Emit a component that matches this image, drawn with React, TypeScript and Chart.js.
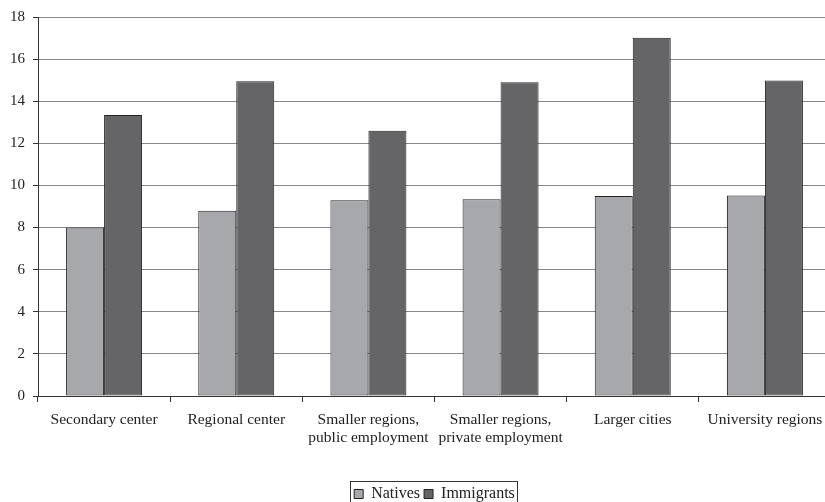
import React, { useEffect, useRef } from "react";
import { Chart, registerables } from "chart.js";

Chart.register(...registerables);

const categories: (string | string[])[] = [
  "Secondary center",
  "Regional center",
  ["Smaller regions,", "public employment"],
  ["Smaller regions,", "private employment"],
  "Larger cities",
  "University regions",
];
const natives = [8.0, 8.8, 9.3, 9.35, 9.5, 9.52];
const immigrants = [13.35, 14.95, 12.6, 14.9, 17.02, 14.98];
const yTicks = [0, 2, 4, 6, 8, 10, 12, 14, 16, 18];

const FONT = "'Liberation Serif', 'DejaVu Serif', serif";

const legendBorder = {
  id: "legendBorder",
  afterLayout(chart: any) {
    const lg = chart.legend;
    const ca = chart.chartArea;
    if (!lg || !ca) return;
    const d = (ca.left + ca.right) / 2 - (lg.left + lg.right) / 2;
    lg.left += d;
    lg.right += d;
    if (lg.legendHitBoxes) for (const h of lg.legendHitBoxes) h.left += d;
  },
  afterDraw(chart: any) {
    const lg = chart.legend;
    if (!lg || !lg.legendHitBoxes || !lg.legendHitBoxes.length) return;
    const boxes = lg.legendHitBoxes;
    let l = Infinity, r = -Infinity, t = Infinity;
    for (const h of boxes) {
      l = Math.min(l, h.left);
      r = Math.max(r, h.left + h.width);
      t = Math.min(t, h.top);
    }
    const ctx = chart.ctx;
    ctx.save();
    ctx.strokeStyle = "#333";
    ctx.lineWidth = 1;
    ctx.strokeRect(Math.round(l - 4) + 0.5, Math.round(t - 5) + 0.5, Math.round(r - l + 6), 40);
    ctx.restore();
  },
};

export default function App() {
  const ref = useRef<HTMLCanvasElement | null>(null);
  useEffect(() => {
    document.body.style.margin = "0";
    const c = ref.current;
    if (!c) return;
    const chart = new Chart(c, {
      type: "bar",
      data: {
        labels: categories,
        datasets: [
          {
            label: "Natives",
            data: natives,
            backgroundColor: "#a7a8ab",
            borderColor: "#222",
            borderWidth: 1,
            borderSkipped: false,
            inflateAmount: 0,
            categoryPercentage: 0.575,
            barPercentage: 1,
          },
          {
            label: "Immigrants",
            data: immigrants,
            backgroundColor: "#656567",
            borderColor: "#222",
            borderWidth: 1,
            borderSkipped: false,
            inflateAmount: 0,
            categoryPercentage: 0.575,
            barPercentage: 1,
          },
        ],
      },
      options: {
        animation: false,
        responsive: false,
        devicePixelRatio: 1,
        layout: { padding: { top: 9, right: 1, left: 0, bottom: 0 } },
        plugins: {
          tooltip: { enabled: false },
          legend: {
            position: "bottom",
            labels: {
              font: { family: FONT, size: 16 },
              color: "#222",
              boxWidth: 9,
              boxHeight: 9,
              padding: 4,
              generateLabels: (ch: any) =>
                ch.data.datasets.map((d: any, i: number) => ({
                  text: d.label,
                  fillStyle: d.backgroundColor,
                  strokeStyle: "#222",
                  lineWidth: 1,
                  datasetIndex: i,
                  fontColor: "#222",
                })),
            },
          },
        },
        scales: {
          x: {
            grid: {
              drawOnChartArea: false,
              offset: true,
              tickLength: 6,
              color: "#333",
            },
            border: { color: "#333", width: 1 },
            ticks: {
              font: { family: FONT, size: 15.5, lineHeight: 1.15 },
              color: "#222",
              maxRotation: 0,
              autoSkip: false,
              padding: 9,
            },
            afterFit: (s: any) => {
              s.height = 86;
            },
          },
          y: {
            min: 0,
            max: 18,
            afterBuildTicks: (s: any) => {
              s.ticks = yTicks.map((v) => ({ value: v }));
            },
            grid: {
              color: "#888",
              tickColor: "#333",
              tickLength: 5,
            },
            border: { color: "#333", width: 1 },
            ticks: {
              font: { family: FONT, size: 15 },
              color: "#222",
              padding: 8,
            },
            afterFit: (s: any) => {
              s.width = 38;
            },
          },
        },
      },
      plugins: [legendBorder],
    } as any);
    return () => chart.destroy();
  }, []);
  return (
    <div style={{ width: 825, height: 502, overflow: "hidden", position: "relative", background: "#fff" }}>
      <canvas ref={ref} width={832} height={512} style={{ display: "block", width: 832, height: 512 }} />
    </div>
  );
}
